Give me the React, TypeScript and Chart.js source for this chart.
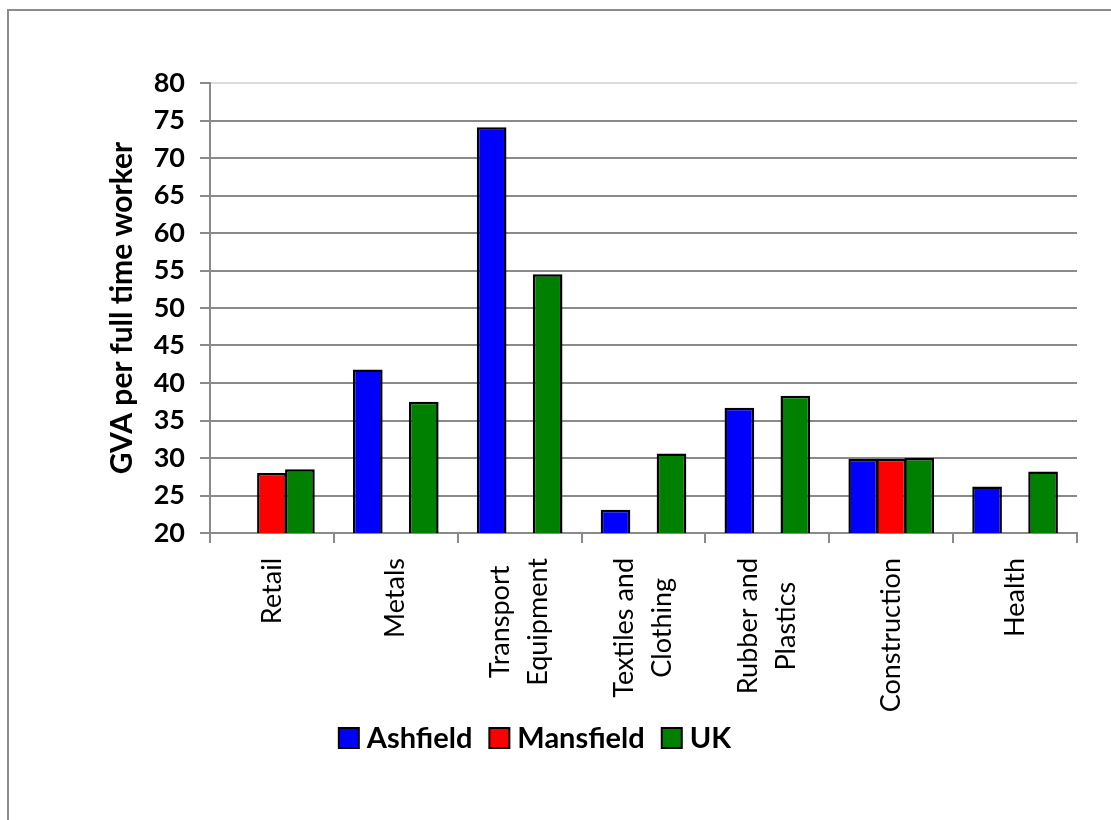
import { useEffect, useRef } from "react";
import { Chart, registerables } from "chart.js";

Chart.register(...registerables);

// Industry categories (multi-line labels as arrays)
const categories: string[][] = [
  ["Retail"],
  ["Metals"],
  ["Transport", "Equipment"],
  ["Textiles and", "Clothing"],
  ["Rubber and", "Plastics"],
  ["Construction"],
  ["Health"],
];

// GVA per full time worker by area
const ashfield: (number | null)[] = [null, 41.8, 74.1, 23.1, 36.7, 29.9, 26.2];
const mansfield: (number | null)[] = [28.0, null, null, null, null, 29.9, null];
const uk: (number | null)[] = [28.5, 37.5, 54.5, 30.6, 38.3, 30.0, 28.2];

const seriesNames = ["Ashfield", "Mansfield", "UK"];
const seriesColors = ["#0000FF", "#FF0000", "#008000"];

const yMin = 20;
const yMax = 80;
const yStep = 5;
const yTitle = "GVA per full time worker";

// Layout and styling
const FONT = "Lato";
const AXIS_GRAY = "#8a8a8a";
const TOP_LINE_GRAY = "#dcdcdc";
const Y_AXIS_WIDTH = 210;
const X_AXIS_HEIGHT = 287;
const X_LABEL_OFFSET = 25;
const X_LABEL_SIZE = 27;
const X_LINE_HEIGHT = 38;
const LEGEND_SIZE = 29;
const LEGEND_BOX = 20;
const LEGEND_TEXT_GAP = 8;
const LEGEND_ITEM_GAP = 17;
const LEGEND_CENTER_X = 535;
const LEGEND_CENTER_Y = 738;

// Rotated, centred multi-line category labels under the x axis
const categoryLabels = {
  id: "categoryLabels",
  afterDraw(chart: any) {
    const xs = chart.scales.x;
    const ctx = chart.ctx as CanvasRenderingContext2D;
    ctx.save();
    ctx.font = `400 ${X_LABEL_SIZE}px ${FONT}`;
    ctx.fillStyle = "#000";
    ctx.textAlign = "center";
    ctx.textBaseline = "middle";
    categories.forEach((lines, i) => {
      const cx = xs.getPixelForValue(i);
      const widest = Math.max(...lines.map((l) => ctx.measureText(l).width));
      const cy = xs.top + X_LABEL_OFFSET + widest / 2;
      lines.forEach((line, k) => {
        const lx = cx + (k - (lines.length - 1) / 2) * X_LINE_HEIGHT;
        ctx.save();
        ctx.translate(lx, cy);
        ctx.rotate(-Math.PI / 2);
        ctx.fillText(line, 0, 0);
        ctx.restore();
      });
    });
    ctx.restore();
  },
};

// Legend row drawn from the datasets
const legendRow = {
  id: "legendRow",
  afterDraw(chart: any) {
    const ctx = chart.ctx as CanvasRenderingContext2D;
    ctx.save();
    ctx.font = `700 ${LEGEND_SIZE}px ${FONT}`;
    const items = chart.data.datasets.map((ds: any) => ({
      label: ds.label as string,
      color: ds.backgroundColor as string,
      w: ctx.measureText(ds.label).width,
    }));
    const total =
      items.reduce((s: number, it: any) => s + LEGEND_BOX + LEGEND_TEXT_GAP + it.w, 0) +
      LEGEND_ITEM_GAP * (items.length - 1);
    let x = LEGEND_CENTER_X - total / 2;
    ctx.textBaseline = "middle";
    ctx.textAlign = "left";
    items.forEach((it: any) => {
      const top = LEGEND_CENTER_Y - LEGEND_BOX / 2;
      ctx.fillStyle = it.color;
      ctx.fillRect(x, top, LEGEND_BOX, LEGEND_BOX);
      ctx.lineWidth = 2;
      ctx.strokeStyle = "#000";
      ctx.strokeRect(x, top, LEGEND_BOX, LEGEND_BOX);
      ctx.fillStyle = "#000";
      ctx.fillText(it.label, x + LEGEND_BOX + LEGEND_TEXT_GAP, LEGEND_CENTER_Y + 1);
      x += LEGEND_BOX + LEGEND_TEXT_GAP + it.w + LEGEND_ITEM_GAP;
    });
    ctx.restore();
  },
};

export default function App() {
  const canvasRef = useRef<HTMLCanvasElement | null>(null);

  useEffect(() => {
    if (!canvasRef.current) return;
    const seriesData = [ashfield, mansfield, uk];
    const chart = new Chart(canvasRef.current, {
      type: "bar",
      data: {
        labels: categories,
        datasets: seriesNames.map((name, i) => ({
          label: name,
          data: seriesData[i],
          backgroundColor: seriesColors[i],
          borderColor: "#000",
          borderWidth: 2.5,
          borderSkipped: false,
          categoryPercentage: 0.678,
          barPercentage: 1.06,
        })),
      },
      options: {
        animation: false,
        responsive: true,
        maintainAspectRatio: false,
        layout: { padding: { top: 83, right: 34, bottom: 0, left: 0 } },
        plugins: {
          legend: { display: false },
          tooltip: { enabled: false },
        },
        scales: {
          x: {
            grid: {
              display: true,
              drawOnChartArea: false,
              drawTicks: true,
              tickLength: 10,
              color: AXIS_GRAY,
              lineWidth: 2,
              offset: true,
            },
            border: { display: true, color: AXIS_GRAY, width: 2 },
            ticks: { display: false },
            afterFit: (scale: any) => {
              scale.height = X_AXIS_HEIGHT;
            },
          },
          y: {
            min: yMin,
            max: yMax,
            ticks: {
              stepSize: yStep,
              color: "#000",
              padding: 15,
              font: { family: FONT, size: 27, weight: "bold" },
            },
            grid: {
              color: (c: any) => (c.tick && c.tick.value === yMax ? TOP_LINE_GRAY : AXIS_GRAY),
              lineWidth: 2,
              drawTicks: true,
              tickLength: 10,
              tickColor: AXIS_GRAY,
              tickWidth: 2,
            },
            border: { display: true, color: AXIS_GRAY, width: 2 },
            title: {
              display: true,
              text: yTitle,
              color: "#000",
              font: { family: FONT, size: 30, weight: "bold" },
              padding: { top: 104, bottom: 0 },
            },
            afterFit: (scale: any) => {
              scale.width = Y_AXIS_WIDTH;
            },
          },
        },
      },
      plugins: [categoryLabels, legendRow],
    });
    return () => chart.destroy();
  }, []);

  return (
    <div
      style={{
        position: "absolute",
        left: 0,
        top: 0,
        width: 1111,
        height: 820,
        overflow: "hidden",
        background: "#fff",
      }}
    >
      <div
        style={{
          position: "absolute",
          left: 7,
          top: 9,
          right: -20,
          bottom: -20,
          borderLeft: "2px solid #8c8c8c",
          borderTop: "2px solid #8c8c8c",
        }}
      />
      <div style={{ position: "absolute", left: 0, top: 0, width: 1111, height: 820 }}>
        <canvas ref={canvasRef} />
      </div>
    </div>
  );
}
